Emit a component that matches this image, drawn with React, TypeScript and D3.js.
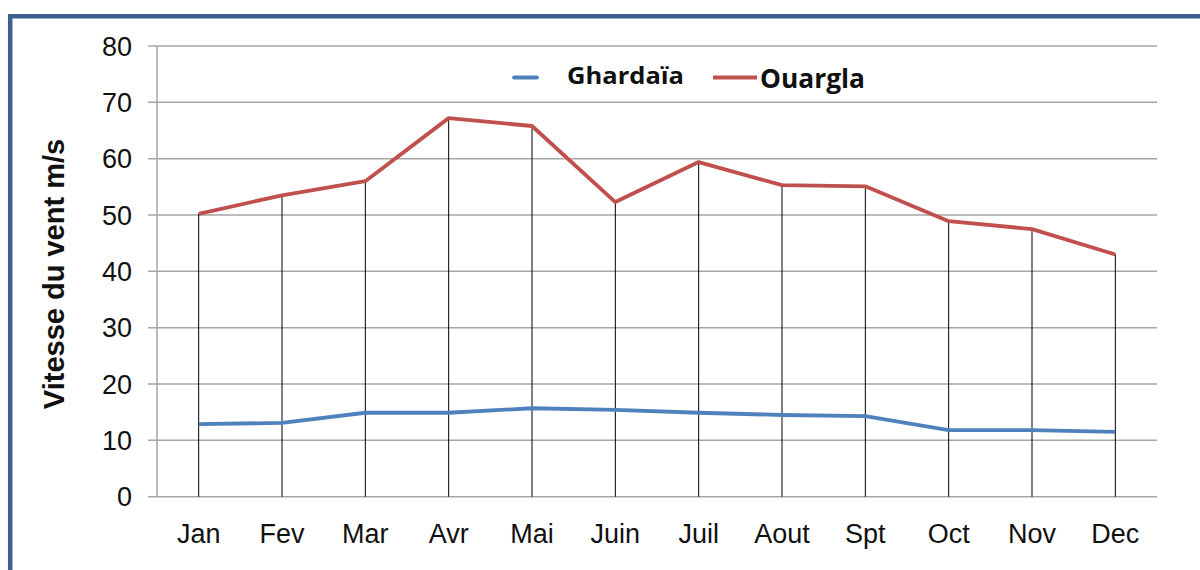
import React from "react";
import * as d3 from "d3";

const months = ["Jan", "Fev", "Mar", "Avr", "Mai", "Juin", "Juil", "Aout", "Spt", "Oct", "Nov", "Dec"];
const ghardaia = [12.9, 13.1, 14.9, 14.9, 15.7, 15.4, 14.9, 14.5, 14.3, 11.8, 11.8, 11.5];
const ouargla = [50.2, 53.5, 56.0, 67.2, 65.8, 52.3, 59.4, 55.3, 55.1, 48.9, 47.5, 43.0];
const yTicks = [0, 10, 20, 30, 40, 50, 60, 70, 80];

export default function App() {
  const W = 1200, H = 570;
  const left = 157, right = 1157, top = 46, bottom = 496.7;
  const x = d3.scaleBand<string>().domain(months).range([left, right]);
  const y = d3.scaleLinear().domain([0, 80]).range([bottom, top]);
  const cx = (m: string) => (x(m) as number) + x.bandwidth() / 2;
  const line = d3.line<number>().x((_, i) => cx(months[i])).y((d) => y(d));
  const font = "Arial, 'Liberation Sans', sans-serif";
  const lfont = "'Open Sans', Lato, sans-serif";
  return (
    <svg width={W} height={H} style={{ position: "absolute", left: 0, top: 0, background: "#fff" }}>
      <rect x={0} y={0} width={W} height={H} fill="#fff" />
      {/* frame */}
      <line x1={8} x2={W} y1={16.3} y2={16.3} stroke="#3d5f8e" strokeWidth={4.5} />
      <line x1={10.2} x2={10.2} y1={14} y2={H} stroke="#3d5f8e" strokeWidth={4.5} />
      {/* gridlines */}
      {yTicks.map((t) => (
        <g key={t}>
          <line x1={148} x2={right} y1={y(t)} y2={y(t)} stroke="#a6a6a6" strokeWidth={1.5} />
          <text x={132} y={y(t)} dy="0.36em" textAnchor="end" fontFamily={font} fontSize={27} fill="#111">{t}</text>
        </g>
      ))}
      <line x1={left} x2={left} y1={top} y2={bottom} stroke="#a6a6a6" strokeWidth={1.5} />
      {/* drop lines */}
      {months.map((m, i) => (
        <line key={m} x1={cx(m)} x2={cx(m)} y1={y(Math.max(ouargla[i], ghardaia[i]))} y2={bottom} stroke="#000" strokeWidth={1} />
      ))}
      {months.map((m) => (
        <text key={m} x={cx(m)} y={543} textAnchor="middle" fontFamily={font} fontSize={27} fill="#111">{m}</text>
      ))}
      <path d={line(ghardaia) || ""} fill="none" stroke="#4f81bd" strokeWidth={3.8} strokeLinejoin="round" />
      <path d={line(ouargla) || ""} fill="none" stroke="#c0504d" strokeWidth={3.8} strokeLinejoin="round" />
      {/* y title */}
      <text transform={`translate(64,274) rotate(-90)`} textAnchor="middle" fontFamily={font} fontWeight="bold" fontSize={29} fill="#111">Vitesse du vent m/s</text>
      {/* legend */}
      <line x1={514} x2={537} y1={77.5} y2={77.5} stroke="#4f81bd" strokeWidth={3.8} strokeLinecap="round" />
      <text x={567} y={84} textLength={117} lengthAdjust="spacingAndGlyphs" fontFamily={lfont} fontWeight="bold" fontSize={24} fill="#111">Ghardaïa</text>
      <line x1={713} x2={757} y1={77.5} y2={77.5} stroke="#c0504d" strokeWidth={3.8} />
      <text x={760} y={88} textLength={105} lengthAdjust="spacingAndGlyphs" fontFamily={lfont} fontWeight="bold" fontSize={27} fill="#111">Ouargla</text>
    </svg>
  );
}
